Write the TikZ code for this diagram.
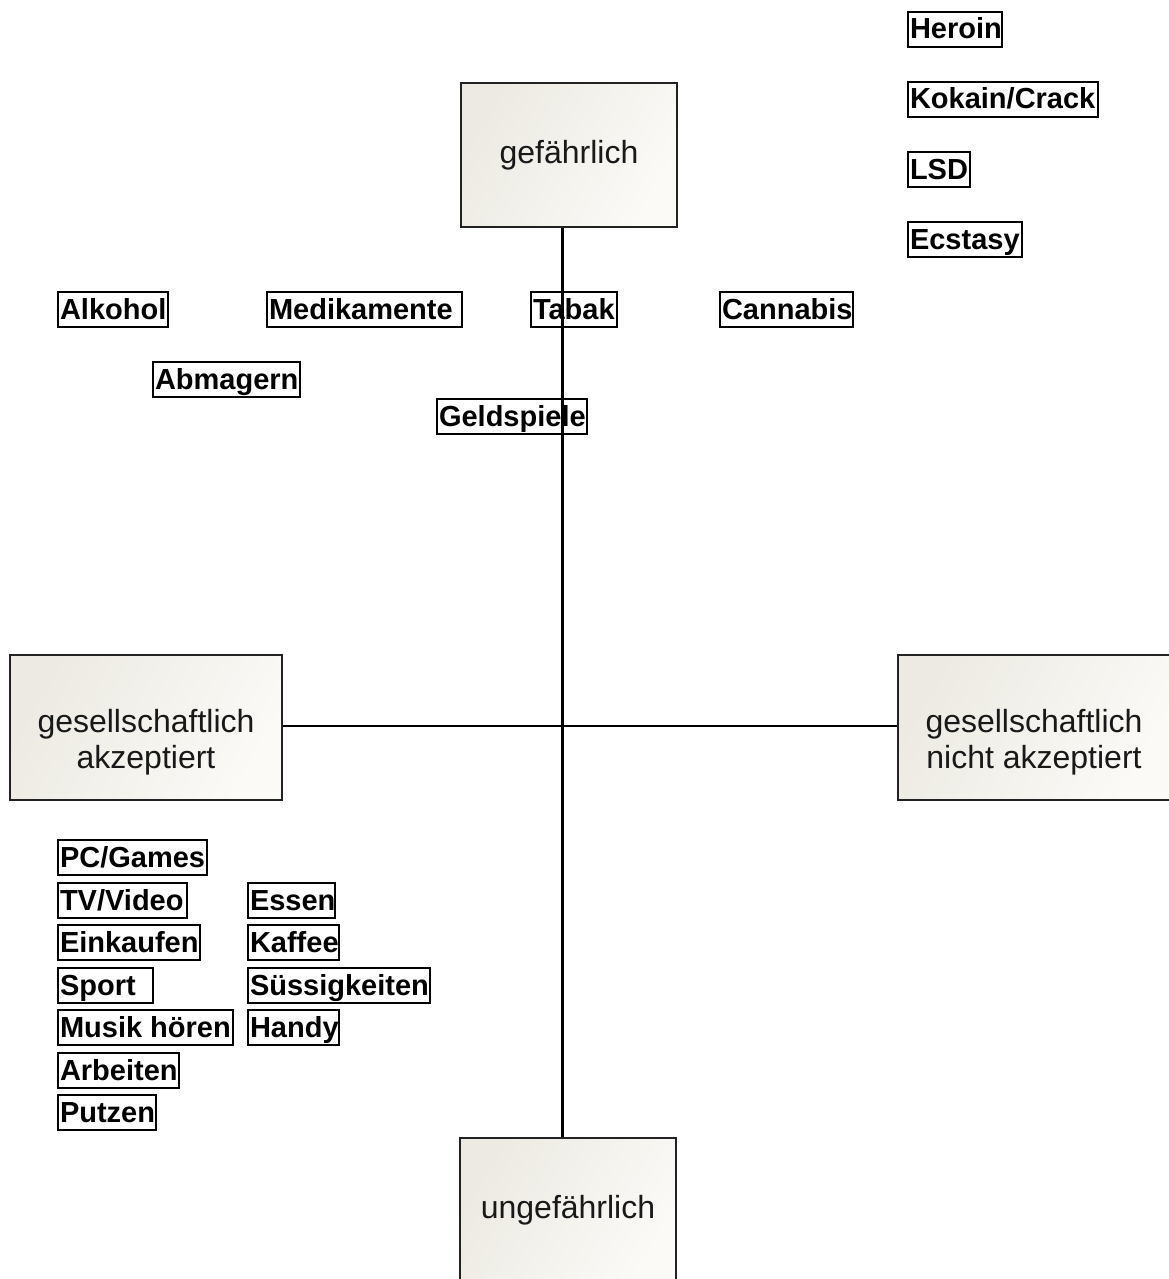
\documentclass[tikz,border=0pt]{standalone}
\usepackage{fontspec}
\setmainfont{Liberation Sans}
\definecolor{boxA}{HTML}{ECEAE2}
\definecolor{boxB}{HTML}{FBFAF7}
\definecolor{edge}{HTML}{222222}
\tikzset{
  bigbox/.style={draw=edge, line width=2pt, left color=boxA, right color=boxB, shading angle=60,
    minimum width=216pt, minimum height=144pt, inner sep=0pt, align=center,
    font=\fontsize{32}{36}\selectfont, text=black!90},
  sidebox/.style={bigbox, minimum width=272pt, minimum height=145pt},
  lblbox/.style={draw=black, line width=2pt, anchor=north west, inner sep=0pt,
    minimum height=35pt, text height=21pt, text depth=2pt,
    font=\fontsize{29}{33}\selectfont\bfseries},
  axisv/.style={line width=3pt, draw=black},
  axish/.style={line width=1.6pt, draw=black}
}
\newcommand\lbl[5]{\node[lblbox, minimum width=#4pt] (#1) at (#2,#3) {\makebox[\dimexpr#4pt-4pt\relax][l]{#5}};}
\newcommand\twolines[2]{\raisebox{-4.5pt}[0pt][0pt]{\begin{tabular}[t]{@{}c@{}}#1\\#2\end{tabular}}}
\begin{document}
\begin{tikzpicture}[x=1pt,y=-1pt]
\useasboundingbox (0,0) rectangle (1169,1279);
% main boxes
\node[bigbox] (gef) at (569,155) {gefährlich};
\node[bigbox] (ung) at (568,1210) {ungefährlich};
\node[sidebox] (akz) at (146,727.5) {\twolines{gesellschaftlich}{akzeptiert}};
\node[sidebox] (nakz) at (1034,727.5) {\twolines{gesellschaftlich}{nicht akzeptiert}};
\coordinate (cross) at (562,726);
% axes
\draw[axish] (akz.east |- cross) -- (nakz.west |- cross);
\draw[axisv] (cross |- gef.south) -- (cross |- ung.north);
% labels top right
\lbl{heroin}{907}{11}{94}{Heroin}
\lbl{kokain}{907}{81}{190}{Kokain/Crack}
\lbl{lsd}{907}{151}{62}{LSD}
\lbl{ecstasy}{907}{221}{114}{Ecstasy}
% labels upper row
\lbl{alkohol}{57}{291}{110}{Alkohol}
\lbl{medi}{266}{291}{195}{Medikamente}
\lbl{tabak}{530}{291}{86}{Tabak}
\lbl{cannabis}{719}{291}{133}{Cannabis}
\lbl{abmagern}{152}{361}{147}{Abmagern}
\lbl{geld}{436}{398}{150}{Geldspiele}
% lower left
\lbl{pc}{57}{839}{149}{PC/Games}
\lbl{tv}{57}{882}{129}{TV/Video}
\lbl{einkaufen}{57}{924}{142}{Einkaufen}
\lbl{sport}{57}{967}{95}{Sport}
\lbl{musik}{57}{1009}{175}{Musik hören}
\lbl{arbeiten}{57}{1052}{121}{Arbeiten}
\lbl{putzen}{57}{1094}{98}{Putzen}
\lbl{essen}{247}{882}{87}{Essen}
\lbl{kaffee}{247}{924}{91}{Kaffee}
\lbl{suess}{247}{967}{182}{Süssigkeiten}
\lbl{handy}{247}{1009}{91}{Handy}
\end{tikzpicture}
\end{document}
